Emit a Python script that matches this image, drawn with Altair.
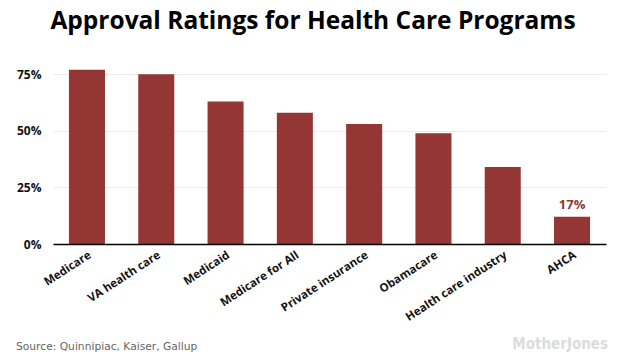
import altair as alt
import pandas as pd

categories = ["Medicare", "VA health care", "Medicaid", "Medicare for All",
              "Private insurance", "Obamacare", "Health care industry", "AHCA"]
approval = [77, 75, 63, 58, 53, 49, 34, 12]
bar_labels = ["", "", "", "", "", "", "", "17%"]
y_ticks = [0, 25, 50, 75]
title_text = ["Approval Ratings for Health Care Programs"]
source_text = ["Source: Quinnipiac, Kaiser, Gallup"]
watermark_text = ["MotherJones"]

df = pd.DataFrame({"cat": categories, "val": approval, "lab": bar_labels})
RED = "#943634"
W, H = 553, 181
FONT = "Open Sans"

x_enc = alt.X(
    "cat:N", sort=categories,
    scale=alt.Scale(paddingInner=0.48, paddingOuter=0.23),
    axis=alt.Axis(title=None, labelAngle=-33, labelAlign="right", labelBaseline="top",
                  labelPadding=5, labelFont=FONT, labelFontWeight="bold", labelFontSize=11.5,
                  labelColor="#111", ticks=False, domain=True, domainColor="#000",
                  domainWidth=1.5, zindex=1),
)
y_enc = alt.Y(
    "val:Q", scale=alt.Scale(domain=[0, 80], nice=False),
    axis=alt.Axis(title=None, values=y_ticks, labelExpr="datum.value + '%'",
                  labelFont=FONT, labelFontWeight="bold", labelFontSize=12,
                  labelColor="#111", ticks=False, domain=False, labelPadding=12,
                  gridColor="#ebebeb", gridWidth=1),
)

bars = alt.Chart(df).mark_bar(color=RED).encode(x=x_enc, y=y_enc)
labels = alt.Chart(df).mark_text(dy=-5, baseline="bottom", color=RED, font=FONT,
                                 fontWeight="bold", fontSize=13).encode(
    x=alt.X("cat:N", sort=categories), y="val:Q", text="lab:N")

title = alt.Chart(pd.DataFrame({"t": title_text})).mark_text(
    font=FONT, fontWeight="bold", fontSize=24.5, color="#000", align="center",
    baseline="alphabetic").encode(text="t:N", x=alt.value(260), y=alt.value(-34))

source = alt.Chart(pd.DataFrame({"t": source_text})).mark_text(
    font="DejaVu Sans", fontSize=10.7, color="#666", align="left",
    baseline="alphabetic").encode(text="t:N", x=alt.value(-37), y=alt.value(287))

mark = alt.Chart(pd.DataFrame({"t": watermark_text})).mark_text(
    font="DejaVu Sans Condensed", fontWeight="bold", fontSize=15, color="#dcdcdc",
    align="right", baseline="alphabetic").encode(text="t:N", x=alt.value(555), y=alt.value(286))

chart = alt.layer(bars, labels, title, source, mark).properties(
    width=W, height=H,
    autosize=alt.AutoSizeParams(type="none"),
    padding={"left": 45, "top": 55, "right": 16, "bottom": 110},
    background="white",
).configure_view(stroke=None)

chart.save("out.html", embed_options={"renderer": "svg", "actions": False})
